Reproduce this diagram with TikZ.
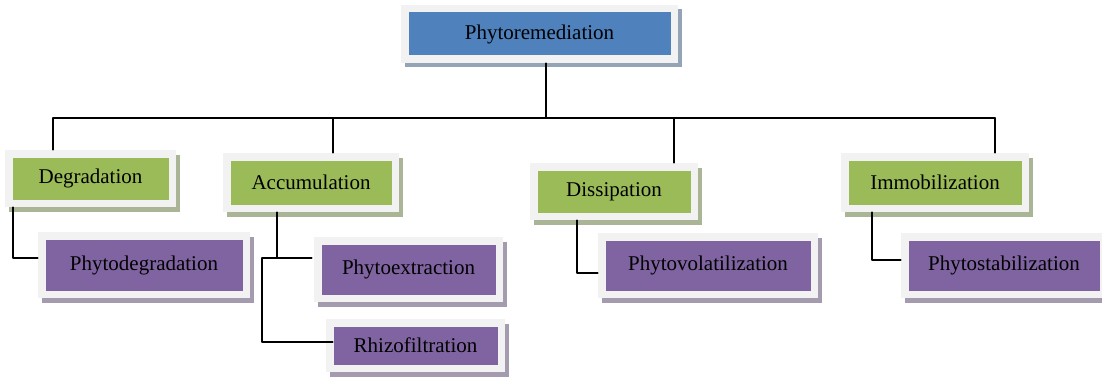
\documentclass[tikz,border=0pt]{standalone}
\usepackage{fontspec}
\setmainfont{Liberation Serif}
\usetikzlibrary{positioning, calc, shadows}

\definecolor{framegray}{HTML}{F2F2F2}
\definecolor{rootblue}{HTML}{4F81BD}
\definecolor{rootshade}{HTML}{95A3B6}
\definecolor{groupgreen}{HTML}{9BBB59}
\definecolor{groupshade}{HTML}{AAB596}
\definecolor{methodpurple}{HTML}{8064A2}
\definecolor{methodshade}{HTML}{A49BAF}

\begin{document}
\begin{tikzpicture}[x=1pt, y=-1pt, line cap=round, line join=round]
	\useasboundingbox (0,0) rectangle (1102,377);
	
	%======================
	% STYLES
	%======================
	\tikzset{
		tile/.style 2 args={fill=framegray, draw=none, inner sep=0pt,
			font=\fontsize{21}{25}\selectfont,
			drop shadow={opacity=1, fill=#2, shadow xshift=4pt, shadow yshift=-4.5pt},
			path picture={\fill[#1] ([xshift=7.5pt,yshift=-7.5pt]path picture bounding box.north west)
				rectangle ([xshift=-7.5pt,yshift=7.5pt]path picture bounding box.south east);}},
		rootbox/.style={tile={rootblue}{rootshade}},
		groupbox/.style={tile={groupgreen}{groupshade}},
		methodbox/.style={tile={methodpurple}{methodshade}},
		link/.style={line width=1.5pt, black}
	}
	
	% top level
	\node[rootbox, minimum width=277pt, minimum height=58pt] (root) at (539.5,34) {Phytoremediation};
	
	% groups
	\node[groupbox, minimum width=171pt, minimum height=57pt] (deg) at (90.5,178.5) {Degradation};
	\node[groupbox, minimum width=176pt, minimum height=59pt] (acc) at (311,182.5) {Accumulation};
	\node[groupbox, minimum width=168pt, minimum height=57pt] (dis) at (614,191.5) {Dissipation};
	\node[groupbox, minimum width=188pt, minimum height=59pt] (imm) at (935,182.5) {Immobilization};
	
	% methods
	\node[methodbox, minimum width=212pt, minimum height=66pt] (pdeg) at (144,265) {Phytodegradation};
	\node[methodbox, minimum width=189pt, minimum height=65pt] (pext) at (408.5,269.5) {Phytoextraction};
	\node[methodbox, minimum width=179pt, minimum height=53pt] (rhiz) at (415.5,345.5) {Rhizofiltration};
	\node[methodbox, minimum width=220pt, minimum height=65pt] (pvol) at (708,265.5) {Phytovolatilization};
	\node[methodbox, minimum width=206pt, minimum height=65pt] (pstab) at (1004,265.5) {Phytostabilization};
	
	% bus under the root
	\coordinate (busL) at (53,118);
	\coordinate (busA) at (333,118);
	\coordinate (busD) at (674,118);
	\coordinate (busR) at (995,118);
	\draw[link] ([xshift=6.5pt]root.south) -- ++(0,55);
	\draw[link] (busL) -- (busR);
	\draw[link] (busL) -- (busL |- deg.north);
	\draw[link] (busA) -- (busA |- acc.north);
	\draw[link] (busD) -- (busD |- dis.north);
	\draw[link] (busR) -- (busR |- imm.north);
	
	% group to method
	\draw[link] ([xshift=-77.5pt]deg.south) |- ([yshift=7pt]pdeg.west);
	
	\coordinate (accJ) at (277,258);
	\coordinate (accL) at (262,258);
	\draw[link] ([xshift=-34pt]acc.south) -- (accJ);
	\draw[link] (accL) -- ([xshift=-2pt,yshift=11.5pt]pext.west);
	\draw[link] (accL) |- ([xshift=7pt,yshift=3.5pt]rhiz.west);
	
	\draw[link] ([xshift=-37pt]dis.south) |- ([yshift=-7.5pt]pvol.west);
	\draw[link] ([xshift=-63pt]imm.south) |- ([yshift=5.5pt]pstab.west);
\end{tikzpicture}
\end{document}
